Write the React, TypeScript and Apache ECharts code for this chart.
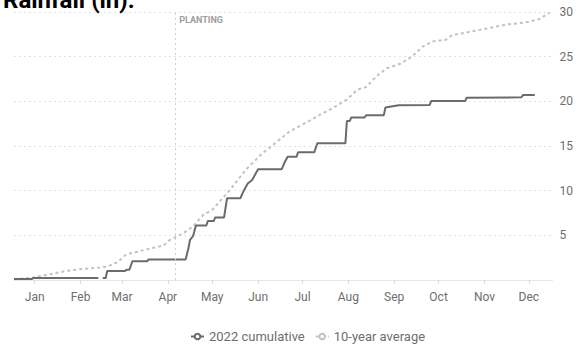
import React, { useEffect, useRef } from "react";
import * as echarts from "echarts";

const MONTHS = ["Jan", "Feb", "Mar", "Apr", "May", "Jun", "Jul", "Aug", "Sep", "Oct", "Nov", "Dec"];
const MONTH_DAYS = [31, 28, 31, 30, 31, 30, 31, 31, 30, 31, 30, 31];

const pad = (n: number) => (n < 10 ? "0" + n : "" + n);
const DAYS: string[] = [];
MONTH_DAYS.forEach((len, m) => {
  for (let d = 1; d <= len; d++) DAYS.push(`2022-${pad(m + 1)}-${pad(d)}`);
});

const PLANTING_DATE = "2022-04-20";

// 2022 cumulative rainfall (in)
const CUMULATIVE_2022: [string, number | null][] = [
  ["2022-01-01", 0.1], ["2022-01-13", 0.1], ["2022-01-14", 0.22], ["2022-02-27", 0.22],
  ["2022-02-28", null],
  ["2022-03-02", 0.22], ["2022-03-04", 0.22], ["2022-03-05", 1.0], ["2022-03-17", 1.0],
  ["2022-03-18", 1.15], ["2022-03-20", 1.15], ["2022-03-22", 2.1], ["2022-04-01", 2.1],
  ["2022-04-02", 2.3], ["2022-04-27", 2.3], ["2022-04-29", 3.6], ["2022-04-30", 4.5],
  ["2022-05-02", 4.9], ["2022-05-04", 6.1], ["2022-05-11", 6.1], ["2022-05-12", 6.6],
  ["2022-05-16", 6.6], ["2022-05-17", 7.0], ["2022-05-23", 7.0], ["2022-05-25", 9.15],
  ["2022-06-03", 9.15], ["2022-06-05", 9.9], ["2022-06-08", 10.8], ["2022-06-11", 11.2],
  ["2022-06-13", 11.8], ["2022-06-15", 12.4], ["2022-07-01", 12.4], ["2022-07-03", 13.2],
  ["2022-07-05", 13.8], ["2022-07-11", 13.8], ["2022-07-12", 14.3], ["2022-07-23", 14.3],
  ["2022-07-25", 15.3], ["2022-08-13", 15.3], ["2022-08-14", 17.8], ["2022-08-16", 17.8],
  ["2022-08-17", 18.2], ["2022-08-26", 18.2], ["2022-08-27", 18.45], ["2022-09-08", 18.45],
  ["2022-09-09", 19.3], ["2022-09-18", 19.55], ["2022-10-09", 19.6], ["2022-10-10", 20.05],
  ["2022-11-02", 20.05], ["2022-11-03", 20.4], ["2022-12-10", 20.45], ["2022-12-11", 20.7],
  ["2022-12-19", 20.7],
];

// 10-year average cumulative rainfall (in)
const TEN_YEAR_AVG: [string, number][] = [
  ["2022-01-01", 0.1], ["2022-01-13", 0.25], ["2022-02-05", 1.0], ["2022-02-14", 1.2],
  ["2022-02-28", 1.4], ["2022-03-05", 1.5], ["2022-03-12", 2.0], ["2022-03-18", 2.9],
  ["2022-03-24", 3.1], ["2022-04-01", 3.45], ["2022-04-12", 3.85], ["2022-04-16", 4.45],
  ["2022-04-25", 5.2], ["2022-05-02", 6.0], ["2022-05-09", 7.3], ["2022-05-15", 7.85],
  ["2022-05-27", 10.1], ["2022-06-07", 12.4], ["2022-06-18", 14.2], ["2022-06-25", 15.1],
  ["2022-07-06", 16.6], ["2022-07-15", 17.4], ["2022-07-27", 18.5], ["2022-08-04", 19.2],
  ["2022-08-14", 20.2], ["2022-08-21", 21.3], ["2022-08-27", 21.6], ["2022-09-03", 22.8],
  ["2022-09-10", 23.7], ["2022-09-19", 24.2], ["2022-09-27", 25.0], ["2022-10-04", 26.1],
  ["2022-10-11", 26.7], ["2022-10-20", 26.9], ["2022-10-24", 27.4], ["2022-11-12", 28.0],
  ["2022-11-30", 28.6], ["2022-12-11", 28.8], ["2022-12-15", 28.9], ["2022-12-22", 29.2],
  ["2022-12-29", 29.9],
];

const FONT = "Roboto";

export default function App() {
  const ref = useRef<HTMLDivElement>(null);
  useEffect(() => {
    document.body.style.margin = "0";
    if (!ref.current) return;
    const chart = echarts.init(ref.current, undefined, { renderer: "svg" });
    const midMonth = (idx: number) => DAYS[idx].slice(8) === "15";
    chart.setOption({
      animation: false,
      textStyle: { fontFamily: FONT },
      grid: { left: 14, right: 23, top: 12, bottom: 68 },
      legend: {
        left: 185,
        bottom: 0,
        itemWidth: 13,
        itemHeight: 7,
        itemGap: 10,
        textStyle: { color: "#6e6e6e", fontSize: 13, fontFamily: FONT },
        data: ["2022 cumulative", "10-year average"],
      },
      xAxis: {
        type: "category",
        data: DAYS,
        boundaryGap: false,
        axisLine: { lineStyle: { color: "#e6e6e6" } },
        axisTick: { show: true, length: 4, interval: midMonth, lineStyle: { color: "#dcdcdc" } },
        axisLabel: {
          interval: midMonth,
          margin: 11,
          color: "#6e6e6e",
          fontSize: 12,
          fontFamily: FONT,
          formatter: (v: string) => MONTHS[parseInt(v.slice(5, 7), 10) - 1],
        },
        splitLine: { show: false },
      },
      yAxis: {
        type: "value",
        position: "right",
        min: 0,
        max: 30,
        interval: 5,
        axisLine: { show: false },
        axisTick: { show: false },
        axisLabel: { showMinLabel: false, color: "#6e6e6e", fontSize: 12, margin: 7, fontFamily: FONT },
        splitLine: { lineStyle: { type: [2, 3], color: "#e3e3e3" } },
      },
      series: [
        {
          name: "2022 cumulative",
          type: "line",
          data: CUMULATIVE_2022,
          symbol: "emptyCircle",
          showSymbol: false,
          connectNulls: false,
          itemStyle: { color: "#6b6b6b" },
          lineStyle: { color: "#6b6b6b", width: 2 },
          z: 3,
          markLine: {
            silent: true,
            symbol: "none",
            label: { show: false },
            lineStyle: { type: [2, 3], color: "#cfcfcf", width: 1 },
            data: [{ xAxis: PLANTING_DATE }],
          },
        },
        {
          name: "10-year average",
          type: "line",
          data: TEN_YEAR_AVG,
          symbol: "emptyCircle",
          showSymbol: false,
          itemStyle: { color: "#c2c2c2" },
          lineStyle: { color: "#c2c2c2", width: 2, type: [3, 3] },
          z: 2,
        },
      ],
    });
    const px = chart.convertToPixel({ xAxisIndex: 0 }, PLANTING_DATE) as number;
    chart.setOption({
      graphic: [
        {
          type: "text",
          left: 3,
          top: -12,
          style: { text: "Rainfall (in):", font: `bold 24px ${FONT}`, fill: "#000" },
        },
        {
          type: "text",
          x: px + 4,
          y: 15,
          style: { text: "PLANTING", font: `bold 9px ${FONT}`, fill: "#a0a0a0" },
        },
      ],
    });
    return () => chart.dispose();
  }, []);
  return <div ref={ref} style={{ width: 576, height: 348 }} />;
}
